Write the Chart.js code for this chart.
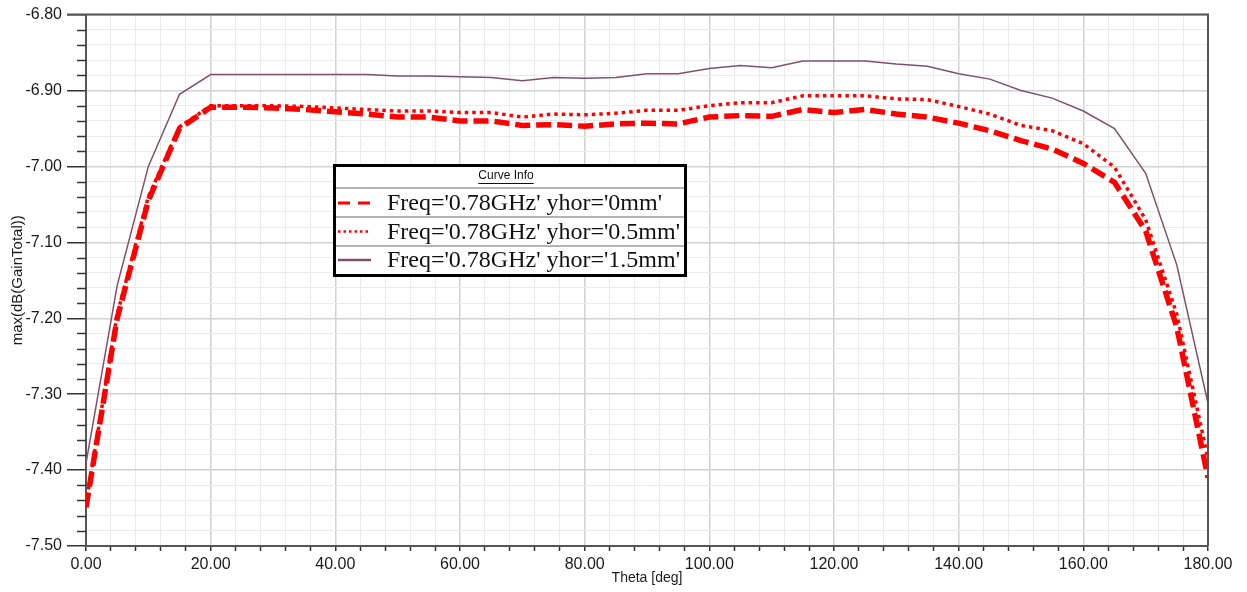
<!DOCTYPE html>
<html>
<head>
<meta charset="utf-8">
<script src="https://cdn.jsdelivr.net/npm/chart.js@4.4.1/dist/chart.umd.min.js"></script>
<style>
  html, body { margin: 0; padding: 0; background: #ffffff; }
  #wrap { width: 1247px; height: 592px; position: relative; }
</style>
</head>
<body>
<div id="wrap"><canvas id="c"></canvas></div>
<script>
// Theta sweep in degrees
const theta = [0, 5, 10, 15, 20, 25, 30, 35, 40, 45, 50, 55, 60, 65, 70, 75, 80, 85, 90,
  95, 100, 105, 110, 115, 120, 125, 130, 135, 140, 145, 150, 155, 160, 165, 170, 175, 180];

// max(dB(GainTotal)) for each yhor value
const gainYhor0 = [-7.449, -7.200, -7.045, -6.950, -6.922, -6.922, -6.923, -6.925, -6.928, -6.931,
  -6.935, -6.935, -6.940, -6.940, -6.946, -6.945, -6.947, -6.944, -6.943, -6.944,
  -6.935, -6.933, -6.934, -6.925, -6.929, -6.925, -6.931, -6.935, -6.943, -6.953,
  -6.966, -6.977, -6.996, -7.021, -7.085, -7.212, -7.410];

const gainYhor05 = [-7.445, -7.195, -7.040, -6.948, -6.920, -6.920, -6.920, -6.921, -6.923, -6.925,
  -6.927, -6.927, -6.929, -6.929, -6.935, -6.931, -6.932, -6.930, -6.926, -6.926,
  -6.920, -6.916, -6.916, -6.907, -6.907, -6.907, -6.911, -6.912, -6.921, -6.931,
  -6.946, -6.953, -6.970, -7.001, -7.070, -7.195, -7.385];

const gainYhor15 = [-7.391, -7.157, -7.000, -6.905, -6.879, -6.879, -6.879, -6.879, -6.879, -6.879,
  -6.881, -6.881, -6.882, -6.883, -6.887, -6.883, -6.884, -6.883, -6.878, -6.878,
  -6.871, -6.867, -6.870, -6.861, -6.861, -6.861, -6.865, -6.868, -6.878, -6.885,
  -6.900, -6.910, -6.927, -6.950, -7.009, -7.130, -7.312];

const seriesLabels = ["Freq='0.78GHz' yhor='0mm'", "Freq='0.78GHz' yhor='0.5mm'", "Freq='0.78GHz' yhor='1.5mm'"];
const legendTitle = 'Curve Info';
const xTitle = 'Theta [deg]';
const yTitle = 'max(dB(GainTotal))';

const RED = '#ff0000';
const MAUVE = '#80506e';
const MAJOR_GRID = '#d2d2d2';
const MINOR_GRID = '#ebebeb';
const AXIS = '#555555';

const pts = arr => theta.map((t, i) => ({ x: t, y: arr[i] }));
const isMult = (v, step) => Math.abs(v / step - Math.round(v / step)) < 1e-6;

// Frame lines on top/right and short minor ticks on the y axis
const framePlugin = {
  id: 'frame',
  afterDraw(chart) {
    const { ctx, chartArea: a } = chart;
    const ys = chart.scales.y;
    ctx.save();
    ctx.strokeStyle = AXIS;
    ctx.lineWidth = 2;
    ctx.beginPath();
    ctx.moveTo(a.left - 19, a.top);
    ctx.lineTo(a.right, a.top);
    ctx.lineTo(a.right, a.bottom);
    ctx.stroke();
    ctx.strokeStyle = '#333333';
    ctx.lineWidth = 1.5;
    ys.ticks.forEach(t => {
      if (!isMult(t.value, 0.1)) {
        const py = Math.round(ys.getPixelForValue(t.value)) + 0.5;
        ctx.beginPath();
        ctx.moveTo(a.left - 9, py);
        ctx.lineTo(a.left, py);
        ctx.stroke();
      }
    });
    ctx.restore();
  }
};

// Boxed curve-info legend
const curveInfoPlugin = {
  id: 'curveInfo',
  afterDraw(chart) {
    const ctx = chart.ctx;
    const bx = 333, by = 164, bw = 354, bh = 113;
    ctx.save();
    ctx.fillStyle = '#ffffff';
    ctx.fillRect(bx, by, bw, bh);

    // title
    ctx.fillStyle = '#111111';
    ctx.font = '12px "Liberation Sans", Arial, sans-serif';
    ctx.textAlign = 'center';
    ctx.textBaseline = 'middle';
    const tx = bx + bw / 2 - 4, ty = 176;
    ctx.fillText(legendTitle, tx, ty);
    const tw = ctx.measureText(legendTitle).width;
    ctx.strokeStyle = '#111111';
    ctx.lineWidth = 1;
    ctx.beginPath();
    ctx.moveTo(tx - tw / 2, ty + 7.5);
    ctx.lineTo(tx + tw / 2, ty + 7.5);
    ctx.stroke();

    // row separators
    ctx.strokeStyle = '#b4b4b4';
    ctx.lineWidth = 2;
    [188, 217, 246].forEach(yy => {
      ctx.beginPath();
      ctx.moveTo(bx + 2, yy);
      ctx.lineTo(bx + bw - 2, yy);
      ctx.stroke();
    });

    // rows
    const rowY = [203, 231.5, 260];
    const samples = [
      { color: RED, width: 3, dash: [12, 8] },
      { color: RED, width: 2.5, dash: [2.5, 3] },
      { color: MAUVE, width: 2.5, dash: [] }
    ];
    chart.data.datasets.forEach((ds, i) => {
      const s = samples[i];
      ctx.strokeStyle = s.color;
      ctx.lineWidth = s.width;
      ctx.setLineDash(s.dash);
      ctx.beginPath();
      ctx.moveTo(338, rowY[i]);
      ctx.lineTo(371, rowY[i]);
      ctx.stroke();
      ctx.setLineDash([]);
      ctx.fillStyle = '#111111';
      ctx.font = '24px "Liberation Serif", "Times New Roman", serif';
      ctx.textAlign = 'left';
      ctx.textBaseline = 'middle';
      ctx.fillText(ds.label, 387, rowY[i] + 1);
    });

    // outer border
    ctx.strokeStyle = '#000000';
    ctx.lineWidth = 3;
    ctx.strokeRect(bx + 1.5, by + 1.5, bw - 3, bh - 3);
    ctx.restore();
  }
};

new Chart(document.getElementById('c'), {
  type: 'line',
  data: {
    datasets: [
      {
        label: seriesLabels[0],
        data: pts(gainYhor0),
        borderColor: RED,
        borderWidth: 5.5,
        borderDash: [15, 6],
        pointRadius: 0,
        tension: 0,
        order: 2
      },
      {
        label: seriesLabels[1],
        data: pts(gainYhor05),
        borderColor: RED,
        borderWidth: 3.5,
        borderDash: [3.5, 4],
        pointRadius: 0,
        tension: 0,
        order: 1
      },
      {
        label: seriesLabels[2],
        data: pts(gainYhor15),
        borderColor: MAUVE,
        borderWidth: 1.5,
        pointRadius: 0,
        tension: 0,
        order: 3
      }
    ]
  },
  options: {
    responsive: true,
    maintainAspectRatio: false,
    animation: false,
    devicePixelRatio: 1,
    layout: { padding: { top: 14, right: 39, left: 0, bottom: 0 } },
    plugins: {
      legend: { display: false },
      tooltip: { enabled: false },
      title: { display: false }
    },
    scales: {
      x: {
        type: 'linear',
        min: 0,
        max: 180,
        afterFit: s => { s.height = 46; },
        border: { color: AXIS, width: 2 },
        grid: {
          color: c => isMult(c.tick.value, 20) ? MAJOR_GRID : MINOR_GRID,
          lineWidth: c => isMult(c.tick.value, 20) ? 1.5 : 1,
          tickLength: 5,
          tickColor: '#333333',
          tickWidth: 1.5
        },
        ticks: {
          stepSize: 4,
          autoSkip: false,
          maxRotation: 0,
          padding: 4,
          color: '#1a1a1a',
          font: { family: '"Liberation Sans", Arial, sans-serif', size: 16 },
          callback: v => isMult(v, 20) ? Number(v).toFixed(2) : ''
        },
        title: {
          display: true,
          text: xTitle,
          color: '#1a1a1a',
          font: { family: '"Liberation Sans", Arial, sans-serif', size: 14 },
          padding: { top: 0, bottom: 5 }
        }
      },
      y: {
        type: 'linear',
        min: -7.5,
        max: -6.8,
        afterFit: s => { s.width = 86; },
        border: { color: AXIS, width: 2 },
        grid: {
          color: c => isMult(c.tick.value, 0.1) ? MAJOR_GRID : MINOR_GRID,
          lineWidth: c => isMult(c.tick.value, 0.1) ? 1.5 : 1,
          tickLength: 19,
          tickColor: c => isMult(c.tick.value, 0.1) ? '#333333' : 'rgba(0,0,0,0)',
          tickWidth: 1.5
        },
        ticks: {
          stepSize: 0.02,
          autoSkip: false,
          padding: 5,
          color: '#1a1a1a',
          font: { family: '"Liberation Sans", Arial, sans-serif', size: 16 },
          callback: v => isMult(v, 0.1) ? Number(v).toFixed(2) : ''
        },
        title: {
          display: true,
          text: yTitle,
          color: '#1a1a1a',
          font: { family: '"Liberation Sans", Arial, sans-serif', size: 15 },
          padding: { top: 9, bottom: 0 }
        }
      }
    }
  },
  plugins: [framePlugin, curveInfoPlugin]
});
</script>
</body>
</html>
